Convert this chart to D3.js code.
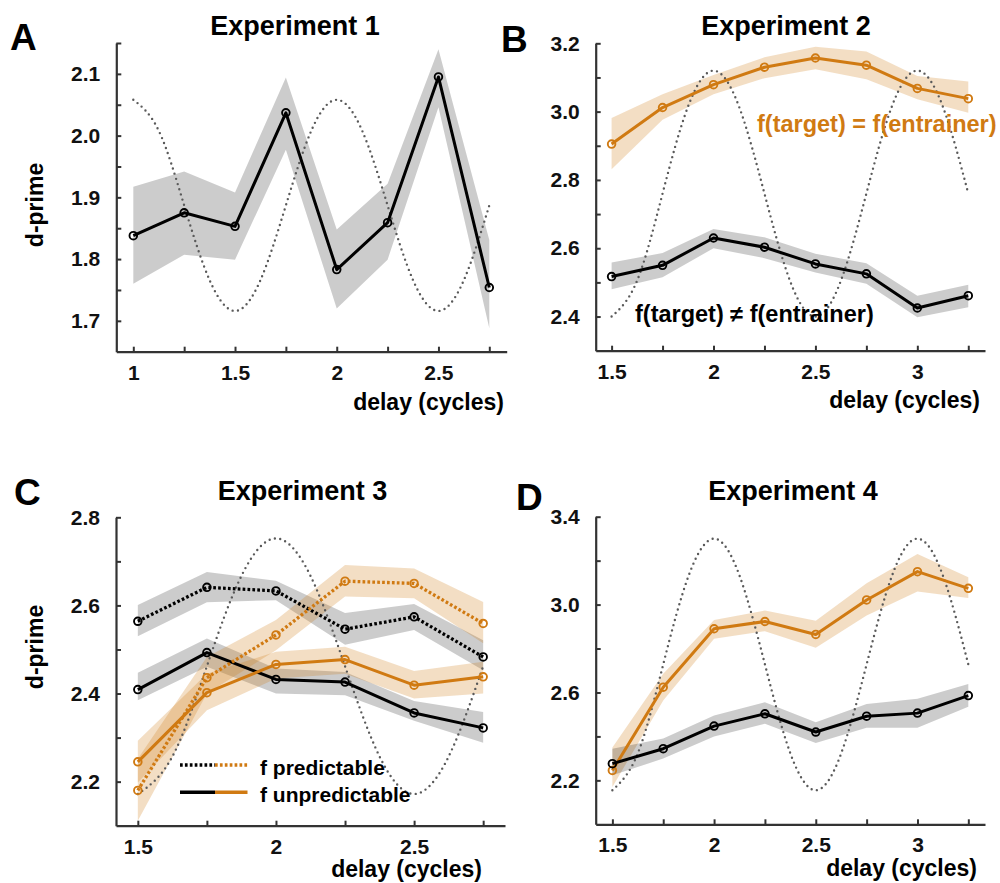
<!DOCTYPE html>
<html><head><meta charset="utf-8">
<script src="https://cdn.jsdelivr.net/npm/d3@7/dist/d3.min.js"></script>
<style>
body{margin:0;background:#fff}
svg text{font-family:"Liberation Sans",Arial,Helvetica,sans-serif;font-weight:bold}
</style>
</head><body>
<svg id="chart" width="1000" height="883"></svg>
<script>
// ---------------- DATA ----------------
// Experiment 1
const delays1 = [1, 1.25, 1.5, 1.75, 2, 2.25, 2.5, 2.75];
const exp1Mean = [1.838, 1.875, 1.853, 2.037, 1.783, 1.859, 2.095, 1.754];
const exp1Lo   = [1.760, 1.807, 1.799, 1.977, 1.720, 1.799, 2.046, 1.688];
const exp1Hi   = [1.917, 1.942, 1.908, 2.094, 1.848, 1.922, 2.140, 1.831];
const guideX1  = [1, 1.125, 1.25, 1.375, 1.5, 1.625, 1.75, 1.875, 2, 2.125, 2.25, 2.375, 2.5, 2.625, 2.75];
const guide1   = [2.058, 2.008, 1.887, 1.766, 1.716, 1.766, 1.887, 2.008, 2.058, 2.008, 1.887, 1.766, 1.716, 1.766, 1.887];
const yTicks1  = [1.7, 1.75, 1.8, 1.85, 1.9, 1.95, 2.0, 2.05, 2.1, 2.15];
const yLabels1 = [1.7, 1.8, 1.9, 2.0, 2.1];
const xLabels1 = [1, 1.5, 2, 2.5];

// Experiment 2
const delays2 = [1.5, 1.75, 2, 2.25, 2.5, 2.75, 3, 3.25];
const exp2SameMean = [2.905, 3.012, 3.079, 3.130, 3.157, 3.136, 3.068, 3.038];
const exp2SameLo   = [2.831, 2.976, 3.051, 3.098, 3.124, 3.095, 3.036, 2.997];
const exp2SameHi   = [2.981, 3.051, 3.107, 3.159, 3.190, 3.176, 3.104, 3.088];
const exp2DiffMean = [2.517, 2.550, 2.630, 2.603, 2.554, 2.525, 2.425, 2.461];
const exp2DiffLo   = [2.480, 2.515, 2.600, 2.571, 2.529, 2.496, 2.398, 2.427];
const exp2DiffHi   = [2.558, 2.586, 2.656, 2.632, 2.584, 2.556, 2.461, 2.493];
const guideX2  = [1.5, 1.625, 1.75, 1.875, 2, 2.125, 2.25, 2.375, 2.5, 2.625, 2.75, 2.875, 3, 3.125, 3.25];
const guide2   = [2.40, 2.505, 2.76, 3.015, 3.12, 3.015, 2.76, 2.505, 2.40, 2.505, 2.76, 3.015, 3.12, 3.015, 2.76];
const yTicks2  = [2.4, 2.5, 2.6, 2.7, 2.8, 2.9, 3.0, 3.1, 3.2];
const yLabels2 = [2.4, 2.6, 2.8, 3.0, 3.2];
const xLabels2 = [1.5, 2, 2.5, 3];

// Experiment 3
const delays3 = [1.5, 1.75, 2, 2.25, 2.5, 2.75];
const exp3PredBlackMean = [2.564, 2.641, 2.633, 2.546, 2.574, 2.483];
const exp3PredBlackLo   = [2.530, 2.607, 2.612, 2.511, 2.544, 2.453];
const exp3PredBlackHi   = [2.601, 2.676, 2.656, 2.583, 2.603, 2.521];
const exp3UnpBlackMean  = [2.409, 2.493, 2.432, 2.426, 2.356, 2.322];
const exp3UnpBlackLo    = [2.385, 2.461, 2.400, 2.396, 2.338, 2.288];
const exp3UnpBlackHi    = [2.447, 2.525, 2.457, 2.449, 2.383, 2.358];
const exp3PredOrangeMean = [2.180, 2.436, 2.533, 2.655, 2.650, 2.559];
const exp3PredOrangeLo   = [2.111, 2.400, 2.498, 2.620, 2.616, 2.514];
const exp3PredOrangeHi   = [2.252, 2.483, 2.567, 2.692, 2.684, 2.608];
const exp3UnpOrangeMean  = [2.245, 2.402, 2.466, 2.477, 2.419, 2.438];
const exp3UnpOrangeLo    = [2.198, 2.362, 2.434, 2.445, 2.389, 2.400];
const exp3UnpOrangeHi    = [2.293, 2.445, 2.495, 2.506, 2.451, 2.472];
const guideX3  = [1.5, 1.625, 1.75, 1.875, 2, 2.125, 2.25, 2.375, 2.5, 2.625, 2.75];
const guide3   = [2.172, 2.257, 2.462, 2.667, 2.752, 2.667, 2.462, 2.257, 2.172, 2.257, 2.462];
const yTicks3  = [2.2, 2.3, 2.4, 2.5, 2.6, 2.7, 2.8];
const yLabels3 = [2.2, 2.4, 2.6, 2.8];
const xLabels3 = [1.5, 2, 2.5];

// Experiment 4
const delays4 = [1.5, 1.75, 2, 2.25, 2.5, 2.75, 3, 3.25];
const exp4OrangeMean = [2.245, 2.624, 2.890, 2.923, 2.864, 3.021, 3.150, 3.074];
const exp4OrangeLo   = [2.170, 2.564, 2.844, 2.879, 2.803, 2.950, 3.060, 3.030];
const exp4OrangeHi   = [2.349, 2.685, 2.930, 2.973, 2.927, 3.097, 3.230, 3.124];
const exp4BlackMean  = [2.276, 2.344, 2.447, 2.503, 2.420, 2.492, 2.506, 2.586];
const exp4BlackLo    = [2.223, 2.299, 2.400, 2.458, 2.370, 2.440, 2.440, 2.535];
const exp4BlackHi    = [2.344, 2.390, 2.495, 2.556, 2.465, 2.548, 2.571, 2.638];
const guideX4  = [1.5, 1.625, 1.75, 1.875, 2, 2.125, 2.25, 2.375, 2.5, 2.625, 2.75, 2.875, 3, 3.125, 3.25];
const guide4   = [2.155, 2.323, 2.728, 3.132, 3.30, 3.132, 2.728, 2.323, 2.155, 2.323, 2.728, 3.132, 3.30, 3.132, 2.728];
const yTicks4  = [2.2, 2.4, 2.6, 2.8, 3.0, 3.2, 3.4];
const yLabels4 = [2.2, 2.6, 3.0, 3.4];
const xLabels4 = [1.5, 2, 2.5, 3];

const titles = ["Experiment 1", "Experiment 2", "Experiment 3", "Experiment 4"];
const letters = ["A", "B", "C", "D"];
const yLabelText = "d-prime";
const xLabelText = "delay (cycles)";
const legendLabels = ["f predictable", "f unpredictable"];
const annot2 = ["f(target) = f(entrainer)", "f(target) \u2260 f(entrainer)"];

// ---------------- STYLE ----------------
const ORANGE = "#d07a12";
const BLACK = "#000";
const AXIS = "#333";

const svg = d3.select("#chart");

function zip(xs, m, lo, hi) { return xs.map((x, i) => ({x, m: m[i], lo: lo[i], hi: hi[i]})); }
const has = (arr, d) => arr.some(v => Math.abs(v - d) < 1e-9);

function panel(cfg) {
  const x = d3.scaleLinear().domain(cfg.xDomain).range([cfg.left, cfg.right]);
  const y = d3.scaleLinear().domain(cfg.yDomain).range([cfg.bottom, cfg.top]);
  const g = svg.append("g");

  // bands
  cfg.series.forEach(s => {
    const area = d3.area().x(d => x(d.x)).y0(d => y(d.lo)).y1(d => y(d.hi));
    g.append("path").attr("d", area(s.data))
      .attr("fill", s.color).attr("fill-opacity", s.color === ORANGE ? 0.25 : 0.2);
  });

  // guide sinusoid
  const gl = d3.line().x(d => x(d[0])).y(d => y(d[1])).curve(d3.curveNatural);
  g.append("path").attr("d", gl(cfg.guideX.map((v, i) => [v, cfg.guide[i]])))
    .attr("fill", "none").attr("stroke", "#5a5a5a").attr("stroke-width", 2.4)
    .attr("stroke-linecap", "round").attr("stroke-dasharray", "0 5.4");

  // lines
  cfg.series.forEach(s => {
    const line = d3.line().x(d => x(d.x)).y(d => y(d.m));
    g.append("path").attr("d", line(s.data)).attr("fill", "none")
      .attr("stroke", s.color).attr("stroke-width", s.dashed ? 3.3 : 3)
      .attr("stroke-dasharray", s.dashed ? "2.7 2.2" : null)
      .attr("stroke-linejoin", "round");
    g.selectAll(null).data(s.data).enter().append("circle")
      .attr("cx", d => x(d.x)).attr("cy", d => y(d.m)).attr("r", 3.8)
      .attr("fill", "none").attr("stroke", s.color).attr("stroke-width", 1.9);
  });

  // axes
  const ya = d3.axisLeft(y).tickValues(cfg.yTicks).tickSize(-5).tickSizeOuter(0).tickPadding(16)
    .tickFormat(d => has(cfg.yLabels, d) ? d3.format(".1f")(d) : "");
  const yg = g.append("g").attr("transform", `translate(${cfg.left},0)`).call(ya);
  const xa = d3.axisBottom(x).tickValues(cfg.xTicks).tickSize(-5).tickSizeOuter(0).tickPadding(13)
    .tickFormat(d => has(cfg.xLabels, d) ? String(d) : "");
  const xg = g.append("g").attr("transform", `translate(0,${cfg.bottom})`).call(xa);
  [yg, xg].forEach(a => {
    a.style("color", AXIS);
    a.select(".domain").attr("stroke-width", 2.2);
    a.selectAll(".tick line").attr("stroke-width", 2);
    a.selectAll(".tick text").attr("fill", "#111").style("font-size", "21px").style("font-family", '"Liberation Sans",Arial,sans-serif').style("font-weight", "bold");
  });

  // texts
  svg.append("text").attr("x", cfg.titleX).attr("y", cfg.titleY).attr("text-anchor", "middle")
    .style("font-size", "27px").text(cfg.title);
  svg.append("text").attr("x", cfg.letterX).attr("y", cfg.letterY)
    .style("font-size", "37px").text(cfg.letter);
  svg.append("text").attr("x", cfg.xlabX).attr("y", cfg.xlabY).attr("text-anchor", "end")
    .style("font-size", "23px").text(xLabelText);
  if (cfg.ylabY) {
    svg.append("text").attr("transform", `translate(${cfg.ylabX},${cfg.ylabY}) rotate(-90)`)
      .attr("text-anchor", "middle").style("font-size", "23px").text(yLabelText);
  }
  return {x, y};
}

// Panel A
panel({
  left: 116.3, right: 506.7, top: 43, bottom: 351.7,
  xDomain: [delays1[0] - 0.0836, delays1[delays1.length - 1] + 0.0855], yDomain: [1.65, 2.15],
  xTicks: delays1, xLabels: xLabels1, yTicks: yTicks1, yLabels: yLabels1,
  guideX: guideX1, guide: guide1,
  series: [{data: zip(delays1, exp1Mean, exp1Lo, exp1Hi), color: BLACK}],
  title: titles[0], titleX: 295, titleY: 35, letter: letters[0], letterX: 10, letterY: 50,
  xlabX: 504, xlabY: 410, ylabX: 43, ylabY: 205
});

// Panel B
panel({
  left: 595.7, right: 985, top: 43.3, bottom: 350.7,
  xDomain: [delays2[0] - 0.078, delays2[delays2.length - 1] + 0.082], yDomain: [2.3, 3.2],
  xTicks: delays2, xLabels: xLabels2, yTicks: yTicks2, yLabels: yLabels2,
  guideX: guideX2, guide: guide2,
  series: [
    {data: zip(delays2, exp2SameMean, exp2SameLo, exp2SameHi), color: ORANGE},
    {data: zip(delays2, exp2DiffMean, exp2DiffLo, exp2DiffHi), color: BLACK}
  ],
  title: titles[1], titleX: 786, titleY: 35, letter: letters[1], letterX: 501, letterY: 52,
  xlabX: 980, xlabY: 408
});
svg.append("text").attr("x", 757).attr("y", 131.5).attr("fill", ORANGE).style("font-size", "23.5px").text(annot2[0]);
svg.append("text").attr("x", 635).attr("y", 321.5).attr("fill", BLACK).style("font-size", "23.5px").text(annot2[1]);

// Panel C
panel({
  left: 116, right: 505, top: 517.3, bottom: 825.7,
  xDomain: [delays3[0] - 0.079, delays3[delays3.length - 1] + 0.079], yDomain: [2.1, 2.8],
  xTicks: delays3, xLabels: xLabels3, yTicks: yTicks3, yLabels: yLabels3,
  guideX: guideX3, guide: guide3,
  series: [
    {data: zip(delays3, exp3PredBlackMean, exp3PredBlackLo, exp3PredBlackHi), color: BLACK, dashed: true},
    {data: zip(delays3, exp3UnpBlackMean, exp3UnpBlackLo, exp3UnpBlackHi), color: BLACK},
    {data: zip(delays3, exp3PredOrangeMean, exp3PredOrangeLo, exp3PredOrangeHi), color: ORANGE, dashed: true},
    {data: zip(delays3, exp3UnpOrangeMean, exp3UnpOrangeLo, exp3UnpOrangeHi), color: ORANGE}
  ],
  title: titles[2], titleX: 302.5, titleY: 500, letter: letters[2], letterX: 14, letterY: 505,
  xlabX: 482, xlabY: 877, ylabX: 43, ylabY: 647
});
// legend
const lg = svg.append("g");
[[765, true], [792.3, false]].forEach(([ly, dashed], i) => {
  lg.append("line").attr("x1", 180).attr("x2", 215).attr("y1", ly).attr("y2", ly)
    .attr("stroke", BLACK).attr("stroke-width", 3.4).attr("stroke-dasharray", dashed ? "2.7 2.2" : null);
  lg.append("line").attr("x1", 215).attr("x2", 247.5).attr("y1", ly).attr("y2", ly)
    .attr("stroke", ORANGE).attr("stroke-width", 3.4).attr("stroke-dasharray", dashed ? "2.7 2.2" : null);
  lg.append("text").attr("x", 260).attr("y", ly + 10).style("font-size", "21px").text(legendLabels[i]);
});

// Panel D
panel({
  left: 595.7, right: 985, top: 516.7, bottom: 824.3,
  xDomain: [delays4[0] - 0.082, delays4[delays4.length - 1] + 0.082], yDomain: [2.0, 3.4],
  xTicks: delays4, xLabels: xLabels4, yTicks: yTicks4, yLabels: yLabels4,
  guideX: guideX4, guide: guide4,
  series: [
    {data: zip(delays4, exp4OrangeMean, exp4OrangeLo, exp4OrangeHi), color: ORANGE},
    {data: zip(delays4, exp4BlackMean, exp4BlackLo, exp4BlackHi), color: BLACK}
  ],
  title: titles[3], titleX: 793, titleY: 500, letter: letters[3], letterX: 516, letterY: 510,
  xlabX: 977, xlabY: 876
});
</script>
</body></html>
